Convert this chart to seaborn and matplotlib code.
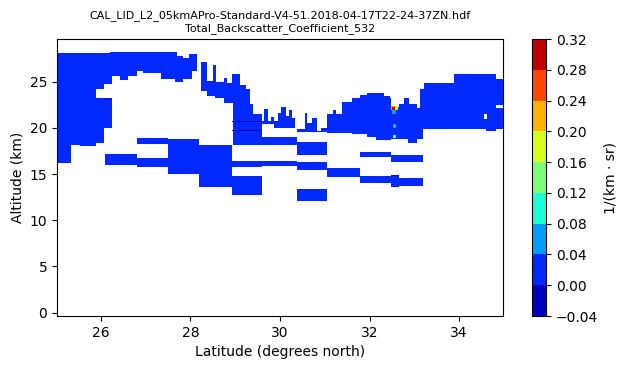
import numpy as np
import matplotlib
matplotlib.use("Agg")
import matplotlib.pyplot as plt
from matplotlib.colors import ListedColormap, BoundaryNorm
import seaborn as sns

title = ("CAL_LID_L2_05kmAPro-Standard-V4-51.2018-04-17T22-24-37ZN.hdf\n"
         "Total_Backscatter_Coefficient_532")
levels = [-0.04, 0.00, 0.04, 0.08, 0.12, 0.16, 0.20, 0.24, 0.28, 0.32]

# upper layer: top / base altitude (km), valid from each start latitude onward
top_lat = [25.00, 26.20, 27.71, 27.83, 27.98, 28.14, 28.23, 28.38, 28.49, 28.58,
           28.76, 28.83, 28.92, 29.10, 29.25, 29.32, 29.39, 29.59, 29.65, 29.72,
           29.81, 29.88, 29.96, 30.03, 30.12, 30.21, 30.28, 30.32, 30.37, 30.54,
           30.61, 30.72, 30.83, 30.92, 31.06, 31.17, 31.26, 31.37, 31.59, 31.77,
           31.95, 32.33, 32.44, 32.48, 32.64, 32.77, 32.88, 33.04, 33.13, 33.22,
           33.88, 34.82]
top_alt = [28.1, 28.2, 27.8, 27.6, 28.0, np.nan, 27.1, 25.1, 26.8, 25.0,
           25.4, 24.9, 25.8, 24.7, 24.2, 22.6, 21.5, 20.8, 22.1, 20.8,
           21.2, 20.8, 21.6, 22.3, 21.3, 22.0, 21.1, 20.0, 19.9, 21.6,
           20.5, 21.1, 19.7, 20.0, 21.5, 22.0, 21.5, 22.8, 23.2, 23.6,
           23.8, 23.5, 23.2, 22.3, 22.6, 23.3, 22.6, 22.2, 24.2, 24.9,
           25.9, 25.3]
base_lat = [25.00, 25.33, 25.53, 25.89, 26.07, 26.24, 26.42, 26.60, 26.80, 26.94,
            27.36, 27.49, 27.65, 27.83, 28.03, 28.14, 28.23, 28.38, 28.54, 28.76,
            28.94, 29.61, 29.88, 30.37, 31.06, 31.59, 31.95, 32.15, 32.48, 32.84,
            33.04, 33.19, 34.59, 34.82]
base_alt = [16.2, 18.2, 18.0, 18.4, 20.0, 25.6, 25.2, 25.6, 26.2, 26.0,
            25.3, 25.3, 25.0, 25.3, 26.2, np.nan, 24.0, 23.5, 23.2, 22.7,
            18.2, 20.4, 20.0, 19.6, 19.5, 19.4, 19.0, 18.7, 18.8, 18.4,
            18.8, 19.9, 19.7, 19.9]

# clear gaps inside the upper layer
gap_lat0 = [25.89, 26.07, 34.55, 34.82]
gap_lat1 = [26.07, 26.24, 34.62, 35.00]
gap_bot = [23.3, 23.2, 21.0, 22.2]
gap_top = [24.2, 24.8, 21.5, 22.5]

# lower layers (80 km averaging segments)
lay_lat0 = [26.09, 26.80, 26.80, 27.49, 28.20, 28.92, 28.92, 29.61, 29.61, 30.37,
            30.37, 30.37, 31.06, 31.77, 31.77, 32.48, 32.48, 32.48]
lay_lat1 = [26.80, 27.49, 27.49, 28.20, 28.92, 29.61, 29.61, 30.37, 30.37, 31.06,
            31.06, 31.06, 31.77, 32.48, 32.48, 33.19, 33.19, 32.66]
lay_bot = [16.0, 18.3, 15.8, 15.0, 13.6, 12.7, 15.8, 15.9, 18.2, 17.1,
           15.5, 12.1, 14.7, 16.9, 14.0, 16.3, 13.7, 13.6]
lay_top = [17.2, 18.9, 16.8, 18.8, 18.2, 14.8, 16.4, 16.4, 19.0, 18.5,
           16.3, 13.4, 15.7, 17.4, 14.8, 17.1, 14.6, 14.9]
lay_val = 0.02

# thin slightly negative streaks
neg_lat0 = [28.92, 28.92, 26.07, 32.48]
neg_lat1 = [29.61, 29.61, 26.24, 32.66]
neg_bot = [20.7, 19.7, 23.0, 14.8]
neg_top = [20.8, 19.8, 23.1, 14.9]
neg_val = -0.01

# strong backscatter patches (drawn in order, inner ones last)
spot_lat0 = [32.49, 32.48, 32.58, 32.51, 32.53, 32.55, 32.52, 32.55]
spot_lat1 = [32.60, 32.62, 32.62, 32.57, 32.60, 32.58, 32.60, 32.58]
spot_bot = [21.5, 21.9, 21.9, 22.0, 20.0, 20.1, 18.85, 18.9]
spot_top = [21.9, 22.4, 22.4, 22.3, 20.4, 20.3, 19.15, 19.1]
spot_val = [0.06, 0.22, 0.18, 0.30, 0.06, 0.10, 0.10, 0.14]

# build the curtain
lat_edges = np.arange(25.0, 35.0 + 1e-9, 0.025)
alt_edges = np.arange(-0.5, 30.0 + 1e-9, 0.1)
lat_c = (lat_edges[:-1] + lat_edges[1:]) / 2
alt_c = (alt_edges[:-1] + alt_edges[1:]) / 2
LAT, ALT = np.meshgrid(lat_c, alt_c)
beta = np.full(LAT.shape, np.nan)

col_top = np.array(top_alt)[np.searchsorted(top_lat, lat_c, side="right") - 1]
col_base = np.array(base_alt)[np.searchsorted(base_lat, lat_c, side="right") - 1]
beta[(ALT >= col_base) & (ALT <= col_top)] = lay_val


def fill(lat0, lat1, bot, top, val):
    for l0, l1, a0, a1, v in zip(lat0, lat1, bot, top, val):
        beta[(LAT >= l0) & (LAT < l1) & (ALT >= a0) & (ALT < a1)] = v


fill(gap_lat0, gap_lat1, gap_bot, gap_top, [np.nan] * len(gap_lat0))
fill(lay_lat0, lay_lat1, lay_bot, lay_top, [lay_val] * len(lay_lat0))
fill(neg_lat0, neg_lat1, neg_bot, neg_top, [neg_val] * len(neg_lat0))
fill(spot_lat0, spot_lat1, spot_bot, spot_top, spot_val)

sns.set_style("ticks", {"axes.edgecolor": "black", "xtick.color": "black",
                        "ytick.color": "black", "text.color": "black",
                        "axes.labelcolor": "black"})

cmap = ListedColormap(plt.cm.jet((np.arange(len(levels) - 1) + 0.5) / (len(levels) - 1)))
norm = BoundaryNorm(levels, cmap.N)

fig = plt.figure(figsize=(6.27, 3.69), dpi=100)
ax = fig.add_axes([0.0909, 0.1436, 0.7114, 0.7507])
cax = fig.add_axes([0.848, 0.1436, 0.0229, 0.7507])

mesh = ax.pcolormesh(lat_edges, alt_edges, np.ma.masked_invalid(beta),
                     cmap=cmap, norm=norm, shading="flat")
ax.set_xlim(25.02, 34.98)
ax.set_ylim(-0.37, 29.64)
ax.set_xticks([26, 28, 30, 32, 34])
ax.set_yticks([0, 5, 10, 15, 20, 25])
ax.set_xlabel("Latitude (degrees north)")
ax.set_ylabel("Altitude (km)")
ax.set_title(title, fontsize=8)

cb = fig.colorbar(mesh, cax=cax, ticks=levels)
cb.ax.set_yticklabels([f"{v:.2f}".replace("-", "\u2212") for v in levels])
cb.set_label("1/(km \u00b7 sr)")

fig.savefig("out.png", dpi=100)
